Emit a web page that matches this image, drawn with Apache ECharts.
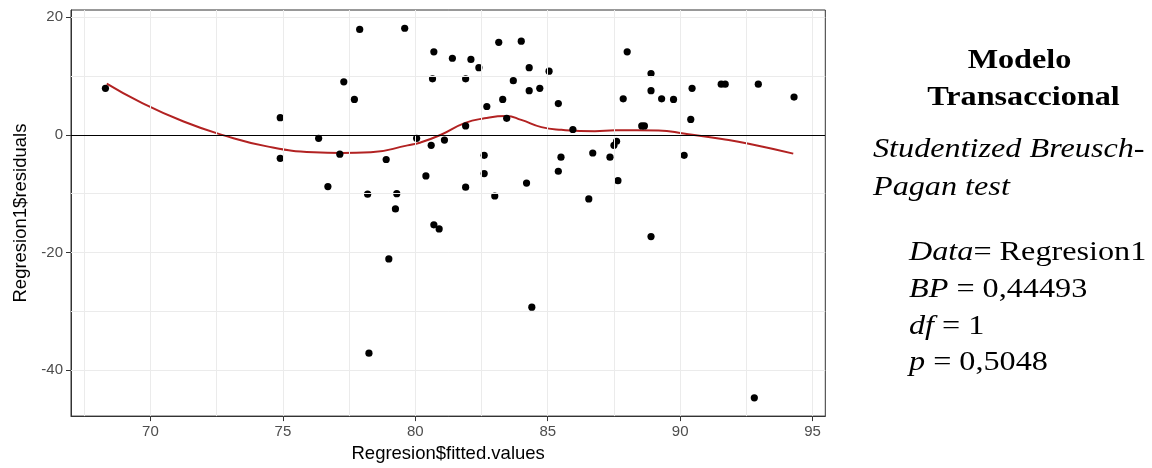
<!DOCTYPE html>
<html>
<head>
<meta charset="utf-8">
<script src="https://cdn.jsdelivr.net/npm/echarts@6/dist/echarts.min.js"></script>
<style>
html,body{margin:0;padding:0;background:#fff;}
#chart{width:1152px;height:468px;}
</style>
</head>
<body>
<div id="chart"></div>
<script>
// Scatter data: fitted values (x) and residuals (y)
const fitted = [68.3, 74.9, 74.9, 76.35, 76.7, 77.15, 77.3, 77.7, 77.9, 78.2,
  78.9, 79.3, 79.25, 79.6, 80.05, 80.4, 80.6, 80.65, 80.7, 81.1,
  81.4, 81.9, 81.9, 81.9, 82.1, 82.4, 82.6, 82.6, 82.7, 83.0,
  83.15, 83.3, 83.45, 83.7, 84.0, 84.2, 84.3, 84.3, 84.7, 85.05,
  85.4, 85.4, 85.5, 85.95, 86.55, 86.7, 87.35, 87.5, 87.6, 87.65,
  87.85, 88.0, 88.55, 88.65, 88.9, 88.9, 89.3, 89.75, 90.15, 90.4,
  90.45, 91.55, 91.7, 92.95, 94.3,
  80.7, 80.9, 79.0, 88.9, 84.4, 78.25, 92.8];
const residuals = [7.9, 2.9, -4.0, -0.6, -8.8, -3.3, 9.0, 6.0, 17.9, -10.1,
  -4.2, -10.0, -12.6, 18.1, -0.6, -7.0, -1.8, 9.5, 14.1, -0.9,
  13.0, 9.5, 1.5, -8.9, 12.8, 11.4, -3.5, -6.6, 4.8, -10.4,
  15.7, 6.0, 2.8, 9.2, 15.9, -8.2, 11.4, 7.5, 7.9, 10.8,
  5.3, -6.2, -3.8, 0.9, -10.9, -3.1, -3.8, -1.8, -1.1, -7.8,
  6.1, 14.1, 1.5, 1.5, 10.4, 7.5, 6.1, 6.0, -3.5, 2.6,
  7.9, 8.6, 8.6, 8.6, 6.4,
  -15.3, -16.0, -21.1, -17.3, -29.3, -37.1, -44.7];
// Smoother curve
const smoothX = [68.35, 69.6, 71.25, 72.77, 74.4, 76.17, 77.2, 78.32, 79.71, 80.2,
  80.97, 81.86, 82.61, 83.44, 84.0, 84.76, 85.52, 86.78, 87.54, 89.18,
  90.19, 91.58, 92.59, 94.27];
const smoothY = [8.7, 5.6, 2.25, -0.1, -1.97, -2.98, -3.1, -2.98, -1.8, -1.3,
  0.0, 1.97, 2.8, 3.2, 2.53, 1.3, 0.84, 0.6, 0.75, 0.73,
  0.17, -0.73, -1.52, -3.2];
// Ticks and grid lines
const xTicks = [70, 75, 80, 85, 90, 95];
const xGrid = [67.5, 70, 72.5, 75, 77.5, 80, 82.5, 85, 87.5, 90, 92.5, 95];
const yTicks = [-40, -20, 0, 20];
const yGrid = [-40, -30, -20, -10, 0, 10, 20];
const refLine = [0];
// Side text
const titleLines = ['Modelo', 'Transaccional'];
const testLines = ['Studentized Breusch-', 'Pagan test'];
const statNames = ['Data', 'BP', 'df', 'p'];
const statValues = ['= Regresion1', ' = 0,44493', ' = 1', ' = 0,5048'];

const serif = '"Liberation Serif", "Times New Roman", serif';
const sans = '"Liberation Sans", Arial, sans-serif';
const FS = 28, SX = 1.15;

function txt(str, x, baseline, opts) {
  opts = opts || {};
  return {
    type: 'text', x: x, y: baseline - 0.305 * FS, scaleX: SX, scaleY: 1,
    silent: true, z: 10,
    style: Object.assign({
      text: str, fill: '#000', fontFamily: serif, fontSize: FS,
      textAlign: opts.align || 'left', align: opts.align || 'left',
      textVerticalAlign: 'middle', verticalAlign: 'middle'
    }, opts.style || {})
  };
}
function statTxt(i, baseline) {
  const rich = {
    i: { fontFamily: serif, fontSize: FS, fontStyle: 'italic', fill: '#000' },
    n: { fontFamily: serif, fontSize: FS, fontStyle: 'normal', fill: '#000' }
  };
  return txt('{i|' + statNames[i] + '}{n|' + statValues[i] + '}', 909, baseline, { style: { rich: rich } });
}

const chart = echarts.init(document.getElementById('chart'), null, { renderer: 'canvas' });
chart.setOption({
  animation: false,
  backgroundColor: '#fff',
  grid: { left: 71, right: 326.7, top: 10, bottom: 51.3, show: true, borderColor: '#333333', borderWidth: 1, containLabel: false },
  xAxis: {
    type: 'value', min: 67.0, max: 95.48,
    name: 'Regresion$fitted.values', nameLocation: 'middle', nameGap: 27,
    nameTextStyle: { fontFamily: sans, fontSize: 18.5, color: '#000' },
    axisLine: { show: true, onZero: false, lineStyle: { color: '#333333', width: 1 } },
    axisTick: { show: true, length: 5, customValues: xTicks, lineStyle: { color: '#333333' } },
    axisLabel: { customValues: xTicks, fontFamily: sans, fontSize: 15, color: '#4D4D4D', margin: 8 },
    splitLine: { show: false }
  },
  yAxis: {
    type: 'value', min: -47.8, max: 21.2,
    name: 'Regresion1$residuals', nameLocation: 'middle', nameGap: 33, nameRotate: 90,
    nameTextStyle: { fontFamily: sans, fontSize: 18.5, color: '#000' },
    axisLine: { show: true, onZero: false, lineStyle: { color: '#333333', width: 1 } },
    axisTick: { show: true, length: 5, customValues: yTicks, lineStyle: { color: '#333333' } },
    axisLabel: { customValues: yTicks, fontFamily: sans, fontSize: 15, color: '#4D4D4D', margin: 8 },
    splitLine: { show: false }
  },
  series: [
    {
      type: 'scatter', data: [], silent: true, z: 1,
      markLine: {
        silent: true, symbol: ['none', 'none'], label: { show: false },
        lineStyle: { color: '#EBEBEB', width: 1, type: 'solid' },
        data: xGrid.map(v => ({ xAxis: v })).concat(yGrid.map(v => ({ yAxis: v })))
      }
    },
    {
      type: 'scatter', data: [], silent: true, z: 2,
      markLine: {
        silent: true, symbol: ['none', 'none'], label: { show: false },
        lineStyle: { color: '#000', width: 1.2, type: 'solid' },
        data: refLine.map(v => ({ yAxis: v }))
      }
    },
    {
      type: 'line', smooth: true, showSymbol: false, silent: true, z: 3,
      data: smoothX.map((x, i) => [x, smoothY[i]]),
      lineStyle: { color: '#B22222', width: 2 }
    },
    {
      type: 'scatter', symbolSize: 7.2, z: 4,
      itemStyle: { color: '#000', opacity: 1 },
      data: fitted.map((x, i) => [x, residuals[i]])
    }
  ],
  graphic: [
    txt(titleLines[0], 1019.5, 69.3, { align: 'center', style: { fontWeight: 'bold' } }),
    txt(titleLines[1], 1023.5, 106, { align: 'center', style: { fontWeight: 'bold' } }),
    txt(testLines[0], 873, 158.3, { style: { fontStyle: 'italic' } }),
    txt(testLines[1], 873, 196, { style: { fontStyle: 'italic' } }),
    statTxt(0, 261),
    statTxt(1, 298),
    statTxt(2, 335),
    statTxt(3, 371)
  ]
});
</script>
</body>
</html>
